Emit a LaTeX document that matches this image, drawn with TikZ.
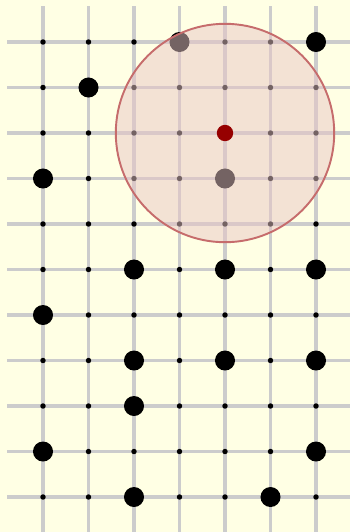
\documentclass[tikz,border=0pt]{standalone}
\usepackage{tikz}
\usepackage{xcolor}
\usetikzlibrary{backgrounds}

\definecolor{paper}{RGB}{255,255,228}
\definecolor{rimred}{RGB}{198,108,108}
\definecolor{zonered}{RGB}{233,198,198}
\definecolor{probered}{RGB}{150,0,0}

\begin{document}
\begin{tikzpicture}[
    gridline/.style={draw=black!20, line width=1.9pt},
    site/.style={circle, fill=black, inner sep=0pt, minimum size=1.2mm},
    stone/.style={circle, fill=black, inner sep=0pt, minimum size=4.4mm},
    probe/.style={circle, fill=probered, inner sep=0pt, minimum size=3.6mm}]

    % paper and lattice
    \fill[paper] (-0.945,0.923) rectangle (6.747,-10.769);
    \useasboundingbox (-0.945,0.923) rectangle (6.747,-10.769);
    \foreach \r in {0,...,10}
        \draw[gridline] (-0.79,-\r) -- (6.747,-\r);
    \foreach \c in {0,...,6}
        \draw[gridline] (\c,0.79) -- (\c,-10.769);

    \foreach \c in {0,...,6}
        \foreach \r in {0,...,10}
            \node[site] (s-\c-\r) at (\c,-\r) {};

    % occupied sites
    \foreach \c/\r in {3/0, 6/0, 1/1, 0/3, 4/3, 2/5, 4/5, 6/5, 0/6, 2/7, 4/7, 6/7, 2/8, 0/9, 6/9, 2/10, 5/10}
        \node[stone] (b-\c-\r) at (\c,-\r) {};

    % search radius round the probe
    \node[circle, draw=rimred, line width=1.2pt, fill=zonered, fill opacity=0.5,
          inner sep=0pt, minimum size=4.8cm] (range) at (4,-2) {};
    \node[probe] (probe) at (range.center) {};
\end{tikzpicture}
\end{document}
